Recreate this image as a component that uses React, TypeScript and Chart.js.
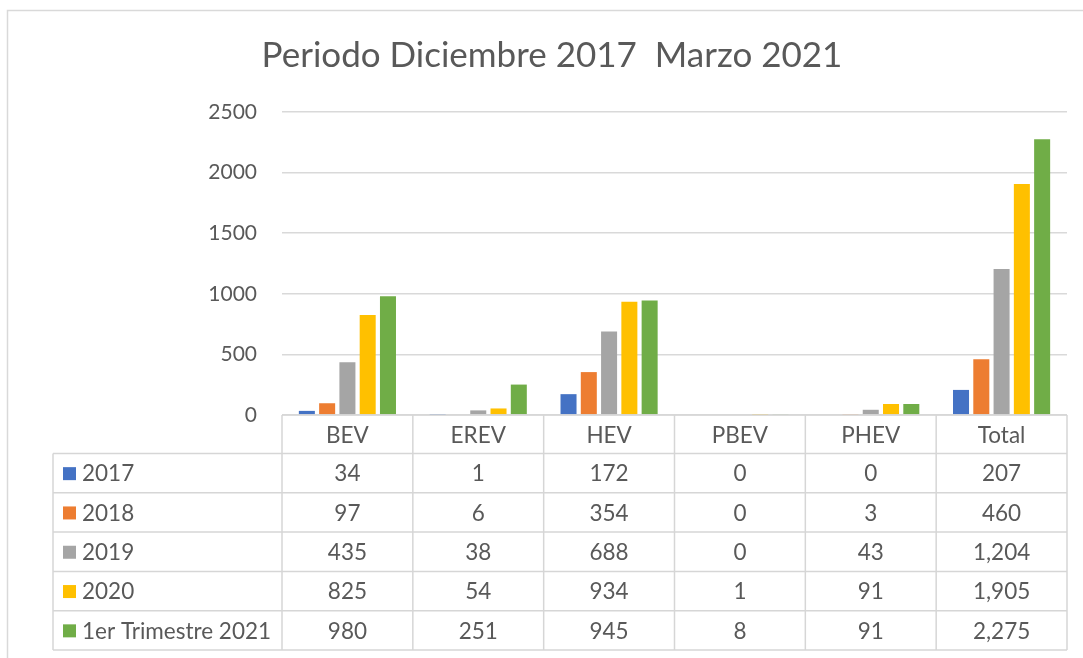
import React, { useEffect, useRef } from 'react';
import { Chart, registerables } from 'chart.js';

Chart.register(...registerables);

const chartTitle = 'Periodo Diciembre 2017  Marzo 2021';
const categories = ['BEV', 'EREV', 'HEV', 'PBEV', 'PHEV', 'Total'];
const seriesLabels = ['2017', '2018', '2019', '2020', '1er Trimestre 2021'];
const values2017 = [34, 1, 172, 0, 0, 207];
const values2018 = [97, 6, 354, 0, 3, 460];
const values2019 = [435, 38, 688, 0, 43, 1204];
const values2020 = [825, 54, 934, 1, 91, 1905];
const values2021 = [980, 251, 945, 8, 91, 2275];
const seriesValues = [values2017, values2018, values2019, values2020, values2021];
const seriesColors = ['#4472C4', '#ED7D31', '#A5A5A5', '#FFC000', '#70AD47'];
const yMin = 0;
const yMax = 2500;
const yStep = 500;

const TEXT = '#595959';
const GRID = '#d9d9d9';
const FONT = 'Lato, "Open Sans", sans-serif';

const tablePlugin = {
  id: 'dataTable',
  afterDraw(chart: any) {
    const ctx = chart.ctx;
    const xs = chart.scales.x;
    const area = chart.chartArea;
    const n = categories.length;
    const step = xs.getPixelForValue(1) - xs.getPixelForValue(0);
    const edges: number[] = [];
    for (let i = 0; i <= n; i++) edges.push(xs.getPixelForValue(0) - step / 2 + i * step);
    const tableLeft = 53;
    const top = area.bottom;
    const headerH = 38.5;
    const rowH = 39.3;
    const rowsY: number[] = [top, top + headerH];
    for (let r = 0; r < seriesLabels.length; r++) rowsY.push(top + headerH + (r + 1) * rowH);
    const bottom = rowsY[rowsY.length - 1];

    ctx.save();
    // outer frame
    ctx.strokeStyle = '#d9d9d9';
    ctx.lineWidth = 1.5;
    ctx.beginPath();
    ctx.moveTo(7.5, chart.height);
    ctx.lineTo(7.5, 10.5);
    ctx.lineTo(chart.width, 10.5);
    ctx.stroke();

    // table lines
    ctx.strokeStyle = '#d6d6d6';
    ctx.lineWidth = 1.5;
    ctx.beginPath();
    ctx.moveTo(edges[0], rowsY[0]);
    ctx.lineTo(edges[n], rowsY[0]);
    for (let r = 1; r < rowsY.length; r++) {
      ctx.moveTo(tableLeft, rowsY[r]);
      ctx.lineTo(edges[n], rowsY[r]);
    }
    for (let i = 0; i <= n; i++) {
      ctx.moveTo(edges[i], rowsY[0]);
      ctx.lineTo(edges[i], bottom);
    }
    ctx.moveTo(tableLeft, rowsY[1]);
    ctx.lineTo(tableLeft, bottom);
    ctx.stroke();

    // title
    ctx.fillStyle = TEXT;
    ctx.font = `35px ${FONT}`;
    ctx.textAlign = 'center';
    ctx.textBaseline = 'middle';
    ctx.fillText(chartTitle, 552, 56);

    // header
    ctx.font = `22.5px ${FONT}`;
    for (let i = 0; i < n; i++) {
      ctx.fillText(categories[i], (edges[i] + edges[i + 1]) / 2, (rowsY[0] + rowsY[1]) / 2 + 1);
    }
    // rows
    for (let r = 0; r < seriesLabels.length; r++) {
      const cy = (rowsY[r + 1] + rowsY[r + 2]) / 2 + 1;
      ctx.fillStyle = seriesColors[r];
      ctx.fillRect(63, cy - 7, 13, 13);
      ctx.fillStyle = TEXT;
      ctx.textAlign = 'left';
      ctx.fillText(seriesLabels[r], 82, cy);
      ctx.textAlign = 'center';
      for (let i = 0; i < n; i++) {
        ctx.fillText(seriesValues[r][i].toLocaleString('en-US'), (edges[i] + edges[i + 1]) / 2, cy);
      }
    }
    ctx.restore();
  },
};

export default function App() {
  const ref = useRef<HTMLCanvasElement>(null);
  useEffect(() => {
    if (!ref.current) return;
    const chart = new Chart(ref.current, {
      type: 'bar',
      data: {
        labels: categories,
        datasets: seriesLabels.map((label, i) => ({
          label,
          data: seriesValues[i],
          backgroundColor: seriesColors[i],
          borderWidth: 0,
          categoryPercentage: 0.775,
          barPercentage: 0.79,
        })),
      },
      options: {
        responsive: false,
        animation: false,
        layout: { padding: { left: 0, right: 16, top: 112, bottom: 243 } },
        plugins: {
          legend: { display: false },
          title: { display: false },
          tooltip: { enabled: false },
        },
        scales: {
          x: { display: false },
          y: {
            min: yMin,
            max: yMax,
            ticks: {
              stepSize: yStep,
              color: TEXT,
              font: { family: FONT, size: 21 },
              padding: 25,
              callback: (v: any) => String(v),
            },
            grid: { color: GRID, lineWidth: 1.5, drawTicks: false },
            border: { display: false },
            afterFit: (s: any) => {
              s.width = 282;
            },
          },
        },
      },
      plugins: [tablePlugin],
    });
    return () => chart.destroy();
  }, []);
  return (
    <div style={{ position: 'absolute', left: 0, top: 0, background: '#fff' }}>
      <canvas ref={ref} width={1083} height={658} style={{ display: 'block' }} />
    </div>
  );
}
